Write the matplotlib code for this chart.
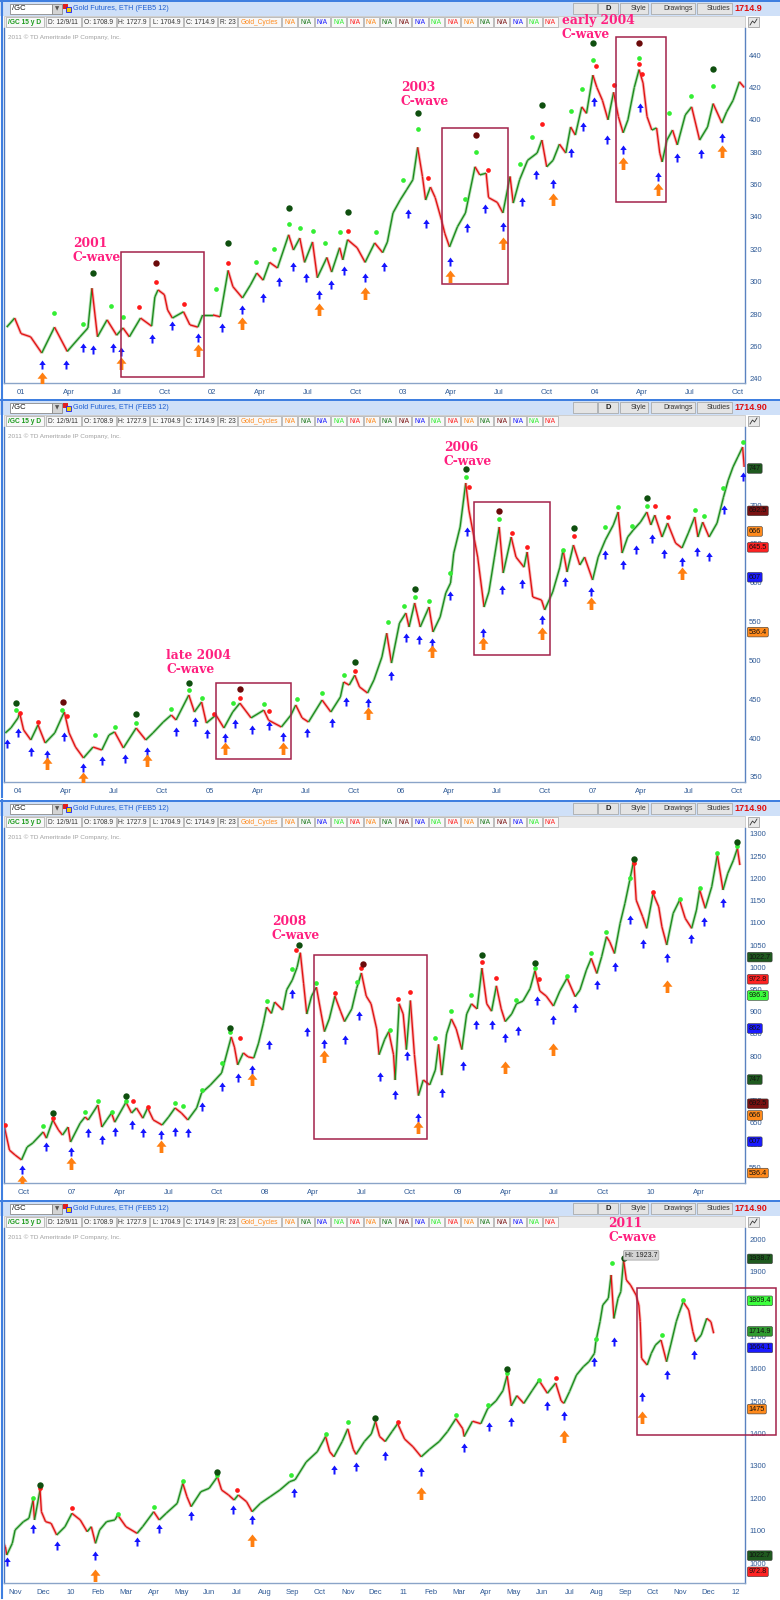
import numpy as np
import matplotlib
matplotlib.use('Agg')
import matplotlib.pyplot as plt
from matplotlib.patches import Rectangle
from matplotlib.collections import LineCollection
from matplotlib.path import Path
from matplotlib.transforms import blended_transform_factory

plt.rcParams['font.family'] = ['Liberation Sans', 'DejaVu Sans']

# ---- data: (month index since Jan 2000, price) -------------------------
p1_price = [(11.1,272),(11.6,277.6),(12.0,268),(12.6,266),(13.3,256),(14.1,272),(14.9,257),(15.7,266),
            (16.2,271.5),(16.45,296),(16.8,266),(17.4,276.5),(18.0,267),(18.4,271.5),(18.8,266),(19.5,277.6),
            (20.2,272.6),(20.4,290.6),(20.6,295),(21.0,292),(21.2,282.6),(21.5,277.6),(22.2,281.5),(22.6,273.4),
            (23.1,272),(23.4,279.5),(24.05,279.5),(24.5,278.4),(25.0,307),(25.3,297),(25.9,290),(26.4,298),
            (26.8,305.4),(27.2,301),(27.6,312),(28.1,308.5),(28.8,329),(29.1,319.6),(29.5,327),(29.8,312),
            (30.3,324.6),(30.6,302.5),(31.2,315),(31.5,306),(32.0,321),(32.2,313.5),(32.5,326),(33.1,321),
            (33.6,312),(34.2,324),(34.7,318),(35.0,324.6),(35.35,342.5),(35.8,350.5),(36.2,356.7),(36.6,363),
            (36.9,383),(37.2,365),(37.4,350.5),(37.7,358.5),(38.0,352),(38.4,338),(38.6,330),(38.9,321.5),
            (39.4,334),(39.9,342.5),(40.5,371),(40.8,366),(41.2,367),(41.35,352),(41.9,349),(42.25,342.5),
            (42.7,365),(42.9,348.6),(43.3,363),(43.8,375),(44.4,379.5),(44.7,387.5),(45.0,371),(45.4,375),
            (45.8,385),(46.2,379.5),(46.5,395.6),(46.8,390.6),(47.2,408),(47.5,404),(47.9,427.6),(48.15,420),
            (48.5,412),(48.85,400),(49.2,417),(49.5,402),(49.8,392),(50.1,400),(50.5,420),(50.8,431),
            (51.05,422.7),(51.3,402),(51.6,393.7),(51.9,395),(52.1,379.5),(52.25,374),(52.55,387.5),(52.9,393.7),
            (53.2,384.5),(53.7,403),(54.1,408),(54.6,387.5),(55.1,395.6),(55.45,410),(56.0,398),(56.3,405),
            (56.7,412),(57.1,423.5),(57.4,420)]
p1_lime = [(14.1,280.7),(15.9,274),(17.65,285),(18.4,278),(24.25,295.6),(26.75,312.2),(27.9,320),(28.85,335.7),
           (29.5,333.2),(30.35,331.4),(31.1,324),(32.0,330.8),(34.3,330.8),(36.0,363),(36.9,394.3),(39.9,351),
           (40.55,380),(43.3,373),(44.1,389.4),(46.5,405.4),(47.2,419),(47.9,437),(50.8,438),(52.7,404),
           (54.05,414.7),(55.45,421)]
p1_red = [(19.4,284.4),(20.5,300),(22.2,286.3),(25.0,311.6),(32.5,331.4),(37.55,364),(41.3,369),(44.7,397.4),
          (48.1,433),(49.2,421.5),(50.8,434.5),(51.0,428.3)]
p1_dkgreen = [(16.5,305.4),(25.0,324),(28.85,345.6),(32.5,343),(36.9,404.2),(44.7,409),(47.9,447.4),(55.45,431.4)]
p1_maroon = [(20.5,311.6),(40.55,390.6),(50.8,447.4)]
p1_blue = [(13.3,251.7),(14.8,252),(15.9,262),(16.5,261),(17.75,262),(18.3,260),(20.2,268),(21.5,276),
           (23.1,268.4),(24.6,274.5),(25.9,285.7),(27.2,293),(28.2,303),(29.1,312),(29.9,305.4),(30.7,295),
           (31.45,301),(32.3,310),(33.6,305.4),(34.8,312),(36.3,345),(37.4,338.8),(38.9,315.3),(40.0,336),
           (41.1,348),(42.25,337),(43.45,352.3),(44.3,369),(45.4,363.5),(46.5,382.6),(47.3,398.6),(48.0,414),
           (48.8,390.6),(49.8,384.4),(50.85,410.4),(52.0,367.8),(53.2,379.5),(54.7,382),(56.0,392)]
p1_orange = [(13.3,244.5),(18.3,253.6),(23.1,261.6),(25.9,278.4),(30.7,287),(33.6,297),(38.9,307),(42.25,327.6),
             (45.4,354.8),(49.8,377),(52.0,361),(56.0,384.4)]

p2_price = [(47.2,406.6),(47.55,413),(48.0,426),(48.1,432.3),(48.35,410.4),(48.8,397.6),(49.25,417),(49.7,393.7),
            (50.3,406.6),(50.75,427.2),(50.9,433.6),(51.2,406.6),(51.6,388.5),(52.1,374.4),(52.7,388.5),(53.25,384.7),
            (53.7,404),(54.05,408),(54.6,387.3),(55.4,413),(56.0,397.6),(56.45,406.6),(57.1,420.7),(57.6,429.7),
            (57.9,423.3),(58.7,455.5),(59.05,433.6),(59.5,446.5),(59.8,419.4),(60.4,429.7),(60.9,413),(61.45,433.6),
            (61.9,445),(62.6,426),(63.4,436),(63.7,423),(64.5,414.3),(65.1,429.7),(65.4,442.6),(65.8,426),
            (66.2,420.7),(67.05,449),(67.6,433.6),(68.2,453),(68.4,472.2),(68.75,468.3),(69.1,481),(69.4,465.8),
            (69.9,458),(70.3,474.8),(70.8,504.4),(71.1,535),(71.4,496.6),(71.9,548),(72.3,561),(72.5,543),
            (72.85,573.9),(73.2,543),(73.75,568.7),(74.0,536.6),(74.45,556),(74.8,586.7),(75.1,599.6),(75.3,638),
            (75.7,671.7),(76.05,728.3),(76.25,693.6),(76.6,655),(76.8,633),(77.2,568.7),(77.5,588),(77.85,633),
            (78.15,671.7),(78.4,612.5),(78.9,658.8),(79.2,633),(79.7,620),(79.9,639.5),(80.25,581.6),(80.8,577.7),
            (81.0,565),(81.5,588),(81.95,620),(82.15,642),(82.4,613.8),(82.8,648.5),(83.2,622.8),(83.5,633),
            (84.0,603.5),(84.35,633),(84.8,655),(85.3,674.3),(85.6,691),(85.85,638.2),(86.2,658.8),(86.55,667.8),
            (87.0,678),(87.4,691),(87.65,674.3),(87.9,687),(88.35,658.8),(88.7,676.8),(89.2,651),(89.6,644.7),
            (90.0,664),(90.4,684.6),(90.6,658.8),(90.9,678),(91.3,658.8),(91.8,676.8),(92.2,710),(92.5,732),
            (92.8,749),(93.1,761.8),(93.4,774.6),(93.5,749)]
p2_lime = [(47.9,436),(50.75,436),(52.8,404),(54.1,414.7),(55.4,419.8),(57.6,437),(58.7,461.9),(59.5,452),
           (61.45,444.8),(63.4,443.9),(65.45,450.3),(67.05,457.6),(68.4,481),(71.15,549.8),(72.2,570),(72.85,582),
           (73.75,576.4),(75.05,612.9),(76.05,736.4),(78.15,682),(82.15,642),(84.8,672),(85.6,697.9),(86.45,673),
           (87.4,699),(90.4,693.6),(91.0,686.3),(92.2,721.5),(93.4,781.5)]
p2_red = [(48.1,432),(49.25,421.2),(51.05,428),(60.3,431),(61.9,451),(63.7,435),(69.1,486.4),(76.25,722.8),
          (78.95,663.5),(79.9,645.5),(82.85,660.5),(87.9,698.7),(88.7,685)]
p2_dkgreen = [(47.9,445.6),(55.4,430.6),(58.7,471.3),(69.1,498.4),(72.85,591.9),(76.05,746.3),(82.85,670.8),
              (87.4,709.4)]
p2_maroon = [(50.8,446.9),(61.9,462.8),(78.15,692.3)]
p2_blue = [(47.3,398.4),(48.0,412.6),(48.8,389),(49.8,384.7),(50.9,408.2),(52.1,367.5),(53.25,377),(54.7,379.1),
           (56.05,389),(57.9,414.7),(59.1,427.6),(59.85,411.3),(60.95,406.2),(61.6,424.2),(62.65,416.8),(63.7,422.4),
           (64.6,408.2),(66.1,412.6),(67.65,425.5),(68.55,453.3),(69.95,451.2),(71.4,486.8),(72.3,534.9),(73.15,532.7),
           (73.95,529.2),(75.05,589.3),(76.15,672.1),(77.15,541.3),(78.35,597),(79.6,604.3),(80.85,558.4),(82.3,607.7),
           (83.9,594.9),(84.8,642),(85.9,629.2),(86.7,648.5),(87.75,662.7),(88.5,643),(89.6,633.5),(90.55,646.3),
           (91.3,640),(92.25,700),(93.4,742.9)]
p2_orange = [(49.8,376.1),(52.1,356.8),(56.05,379.6),(60.95,395.4),(64.6,395.4),(69.95,440.4),(73.95,519.8),
             (77.15,530.5),(80.85,543.4),(83.9,582),(89.6,620.6)]

p3_price = [(79.7,625),(79.8,638),(80.1,588),(80.45,577),(80.85,566),(81.2,595),(81.55,604),(82.2,629),(82.4,615),
            (82.8,656),(83.15,633.3),(83.4,622),(83.75,640),(83.9,606.3),(84.5,649),(84.8,662.6),(85.0,656),
            (85.6,689.7),(85.85,640),(86.15,656),(86.45,671.6),(86.65,651),(87.35,696),(87.7,671.6),(88.0,683),
            (88.4,660),(88.7,683),(89.05,656),(89.6,644.6),(90.0,662.6),(90.4,683),(90.8,671.6),(91.2,656),
            (91.75,683),(92.05,716.7),(92.6,734.6),(93.3,761.7),(93.9,843),(94.1,820),(94.3,780),(94.65,807),
            (94.95,798),(95.3,795.5),(95.6,829),(95.9,874),(96.1,910),(96.4,896),(96.6,921.6),(97.1,903.6),
            (97.35,949),(97.7,971),(98.0,1000),(98.2,1032.6),(98.4,964),(98.6,894.6),(98.9,935),(99.2,955),
            (99.5,894.6),(99.7,855),(100.0,883.5),(100.35,935),(100.7,901),(100.95,877.6),(101.4,906),(101.7,952),
            (102.0,987),(102.3,935),(102.6,917.6),(102.95,861),(103.1,803),(103.45,837.6),(103.7,855),(104.0,803),
            (104.1,746),(104.35,917.6),(104.6,894.6),(104.8,814.6),(105.05,924.8),(105.3,803),(105.55,711),
            (105.85,746),(106.25,735),(106.6,768.5),(106.8,826),(107.0,757),(107.3,849.6),(107.6,883.5),(107.9,861),
            (108.25,814.6),(108.55,894.6),(108.85,917.6),(109.2,906),(109.5,998),(109.8,917.6),(110.1,901),
            (110.4,958),(110.7,906),(110.95,877.6),(111.35,894.6),(111.65,917.6),(112.05,923.6),(112.5,952),
            (112.8,992.3),(113.1,946.4),(113.5,935),(113.95,912.6),(114.35,946.4),(114.8,975.6),(115.3,933.6),
            (115.6,948.6),(116.0,993.7),(116.3,1020),(116.65,986),(116.95,1023.7),(117.25,1068.7),(117.45,1057.5),
            (117.75,1031),(118.1,1099),(118.4,1144),(118.7,1196),(118.95,1241),(119.1,1151),(119.5,1113.8),
            (119.75,1087.6),(120.15,1166),(120.5,1136),(120.7,1091),(121.0,1050),(121.4,1121.4),(121.8,1151),
            (122.15,1110),(122.55,1087.6),(122.85,1128.8),(123.05,1174),(123.4,1132.7),(123.8,1181.3),
            (124.15,1252.7),(124.5,1174),(124.8,1211.5),(125.15,1241),(125.4,1267.8),(125.55,1230)]
p3_lime = [(82.2,642.3),(84.8,673),(85.6,698.6),(86.45,673),(87.35,698.6),(90.4,693.5),(90.9,687.4),(92.05,723.4),
           (93.3,783.4),(93.85,853.4),(96.1,923.9),(97.7,995.9),(99.2,963.7),(101.7,966),(103.75,858.3),(106.6,841),
           (107.6,900.7),(108.85,937.4),(111.65,926),(112.8,998),(114.8,980.9),(116.3,1031),(117.25,1078.4),
           (118.7,1201.6),(121.8,1152.9),(123.05,1177.7),(124.15,1256.5),(125.4,1273)]
p3_red = [(79.8,644.6),(82.8,659.7),(87.8,699.4),(88.75,685.9),(94.45,839.8),(97.95,1038.7),(100.35,943),(102.0,998),
          (104.3,929.3),(105.05,944),(109.5,1011.7),(110.4,975.2),(113.05,973),(118.95,1234),(120.15,1170)]
p3_dkgreen = [(82.8,670.9),(87.35,709.9),(93.85,863.6),(98.1,1050),(109.5,1026.8),(112.8,1009.4),(118.95,1243.7),
              (125.4,1282.7)]
p3_maroon = [(102.1,1007.2)]
p3_blue = [(80.85,554.5),(82.4,607),(83.9,595.7),(85.0,637),(85.85,622),(86.65,640.8),(87.7,655.9),(88.4,637),
           (89.55,633.3),(90.4,640.8),(91.2,637),(92.1,697),(93.3,742),(94.35,762.4),(95.2,779.7),(96.25,836),
           (97.7,951),(98.6,866.2),(99.7,837.6),(100.95,846.8),(101.85,900.7),(103.15,763),(104.1,723),
           (104.85,811.3),(105.55,671.4),(107.0,728.6),(108.35,789.4),(109.15,881),(110.1,881),(110.95,852.5),
           (111.75,868.5),(112.9,935),(113.95,892.6),(115.3,918.7),(116.65,971.2),(117.75,1012.4),(118.7,1117.6),
           (119.55,1062.8),(121.0,1032.7),(122.5,1074.8),(123.3,1113.8),(124.5,1155)]
p3_orange = [(80.85,532),(83.9,573.2),(89.55,610.8),(95.2,761),(99.7,814.6),(105.55,654),(110.95,789.4),
             (113.95,828.4),(121.0,971.2)]

p4_price = [(117.55,1065.8),(117.65,1050),(117.7,1024.7),(117.9,1060.8),(118.0,1101.9),(118.3,1127.6),(118.5,1138),
            (118.65,1194.4),(118.7,1133),(118.9,1225.3),(118.95,1158.3),(119.1,1127.6),(119.3,1122.5),(119.5,1086.4),
            (119.8,1112),(120.05,1153.4),(120.35,1133),(120.6,1096.7),(120.75,1112),(120.9,1060.8),(121.05,1101.9),
            (121.3,1127.6),(121.6,1133),(121.7,1148.3),(122.0,1112),(122.4,1091.6),(122.6,1112),(123.0,1158.3),
            (123.2,1133),(123.45,1153.4),(123.85,1184.3),(124.05,1246),(124.2,1204.6),(124.35,1174),(124.7,1220),
            (125.0,1230.5),(125.3,1266.4),(125.45,1225.3),(125.7,1210),(125.9,1194.4),(126.05,1210),(126.35,1189.2),
            (126.55,1158.3),(126.85,1184.3),(127.2,1204.6),(127.55,1225.3),(127.9,1250.9),(128.1,1257),
            (128.5,1311.7),(128.9,1343.5),(129.2,1390.4),(129.35,1343.5),(129.5,1327.8),(129.8,1375),(130.0,1414.2),
            (130.2,1351),(130.3,1335.5),(130.6,1375),(130.85,1398.4),(131.0,1437.6),(131.15,1390.4),(131.35,1375),
            (131.6,1406),(131.8,1430),(132.05,1382.7),(132.35,1359),(132.65,1327.8),(132.95,1351),(133.3,1375),
            (133.6,1406),(133.9,1445.5),(134.15,1414.2),(134.2,1390.4),(134.5,1437.6),(134.8,1430),(135.05,1477),
            (135.35,1500.6),(135.6,1532),(135.75,1579),(135.9,1485),(136.1,1516.4),(136.35,1492.6),(136.65,1532),
            (136.9,1563.6),(137.2,1524),(137.5,1555.5),(137.7,1500),(137.8,1493),(138.0,1529),(138.25,1580.2),
            (138.5,1606),(138.7,1621.4),(138.9,1647.1),(138.95,1683),(139.1,1744.8),(139.2,1796.3),(139.4,1817),
            (139.5,1888.9),(139.6,1755),(139.75,1817),(139.85,1837.4),(139.95,1935.2),(140.05,1873.5),(140.2,1858),
            (140.4,1827.2),(140.5,1796.3),(140.55,1744.8),(140.6,1631.8),(140.8,1611),(140.95,1647.1),(141.1,1672.8),
            (141.3,1688.3),(141.5,1621.4),(141.65,1672.8),(141.85,1744.8),(141.95,1770.6),(142.1,1806.5),
            (142.3,1780.9),(142.45,1714),(142.55,1683),(142.75,1703.7),(142.95,1755),(143.1,1744.8),(143.2,1709)]
p4_lime = [(118.65,1199.7),(121.7,1151.2),(123.0,1173.9),(124.05,1254.1),(125.3,1271.6),(127.95,1271.6),
           (129.2,1398.5),(130.0,1434.6),(133.9,1456.5),(135.05,1487.9),(135.75,1587),(136.9,1563.6),
           (138.95,1691.4),(139.55,1924.9),(141.35,1703.7),(142.1,1811.7)]
p4_red = [(118.9,1232.5),(120.05,1168.8),(126.0,1225.3),(131.8,1434.6),(137.5,1571.3)]
p4_dkgreen = [(118.9,1240.7),(125.3,1279.9),(131.0,1448.8),(135.75,1598),(139.95,1940.4)]
p4_maroon = []
p4_blue = [(117.7,1019.5),(118.65,1120.4),(119.5,1068.9),(120.9,1038),(122.4,1079.3),(123.2,1120.4),
           (124.35,1161.4),(125.85,1179),(126.55,1148.1),(128.05,1230.5),(129.5,1304),(130.3,1312),(131.35,1346.6),
           (132.65,1296.3),(134.2,1371.6),(135.1,1434.6),(135.9,1450.3),(137.2,1500.6),(137.8,1470),
           (138.9,1636.8),(139.6,1698.6),(140.6,1528.8),(141.5,1595.7),(142.5,1657.4)]
p4_orange = [(120.9,980.5),(126.55,1089.5),(132.65,1233.3),(137.8,1410),(140.6,1469)]

# tick labels and price tags
p1_xlabels = ['01','Apr','Jul','Oct','02','Apr','Jul','Oct','03','Apr','Jul','Oct','04','Apr','Jul','Oct']
p2_xlabels = ['04','Apr','Jul','Oct','05','Apr','Jul','Oct','06','Apr','Jul','Oct','07','Apr','Jul','Oct']
p3_xlabels = ['Oct','07','Apr','Jul','Oct','08','Apr','Jul','Oct','09','Apr','Jul','Oct','10','Apr']
p4_xlabels = ['Nov','Dec','10','Feb','Mar','Apr','May','Jun','Jul','Aug','Sep','Oct','Nov','Dec',
              '11','Feb','Mar','Apr','May','Jun','Jul','Aug','Sep','Oct','Nov','Dec','12']
p2_tags = [(747,'#1f5a1f'),(692.5,'#7a1212'),(666,'#ff8a1c'),(645.5,'#ff2222'),(607,'#1a1aff'),(536.4,'#ff8a1c')]
p3_tags = [(1022.7,'#1f5a1f'),(972.8,'#ff2222'),(936.3,'#3cff3c'),(862,'#1a1aff'),(747,'#1f5a1f'),
           (692.5,'#7a1212'),(666,'#ff8a1c'),(607,'#1a1aff'),(536.4,'#ff8a1c')]
p4_tags = [(1938.7,'#1f5a1f'),(1809.4,'#3cff3c'),(1714.9,'#2f9b2f'),(1664.1,'#1a1aff'),(1475,'#ff8a1c'),
           (1022.7,'#1f5a1f'),(972.8,'#ff2222')]

# cycle boxes (m0, p0, m1, p1) and notes
p1_boxes = [(18.3,241,23.5,318.2),(38.42,298.6,42.6,395),(49.35,349.3,52.5,451)]
p2_boxes = [(60.43,372.7,65.1,471.3),(76.6,507,81.32,704.2)]
p3_boxes = [(99.05,614,106.1,1027)]
p4_boxes = [(140.45,1395,145.45,1850)]
p1_notes = [(15.26,311,'2001\nC-wave'),(35.85,407.3,'2003\nC-wave'),(45.96,448.6,'early 2004\nC-wave')]
p2_notes = [(57.3,480,'late 2004\nC-wave'),(74.67,747.6,'2006\nC-wave')]
p3_notes = [(96.43,1057,'2008\nC-wave')]
p4_notes = [(139.39,1984.6,'2011\nC-wave')]

panels = [
    dict(o=0, xlim=(10.93,57.45), ylim=(237.5,456.7), yt=range(240,441,20), xt=range(12,58,3), xl=p1_xlabels,
         price=p1_price, lime=p1_lime, red=p1_red, dk=p1_dkgreen, mar=p1_maroon, blue=p1_blue, orange=p1_orange,
         tags=[], boxes=p1_boxes, notes=p1_notes, last='1714.9'),
    dict(o=399, xlim=(47.12,93.55), ylim=(343.5,800.4), yt=range(350,751,50), xt=range(48,94,3), xl=p2_xlabels,
         price=p2_price, lime=p2_lime, red=p2_red, dk=p2_dkgreen, mar=p2_maroon, blue=p2_blue, orange=p2_orange,
         tags=p2_tags, boxes=p2_boxes, notes=p2_notes, last='1714.90'),
    dict(o=800, xlim=(79.76,125.87), ylim=(514,1313.5), yt=range(550,1301,50), xt=range(81,124,3), xl=p3_xlabels,
         price=p3_price, lime=p3_lime, red=p3_red, dk=p3_dkgreen, mar=p3_maroon, blue=p3_blue, orange=p3_orange,
         tags=p3_tags, boxes=p3_boxes, notes=p3_notes, last='1714.90'),
    dict(o=1200, xlim=(117.6,144.33), ylim=(938.3,2034), yt=range(1000,2001,100), xt=range(118,145), xl=p4_xlabels,
         price=p4_price, lime=p4_lime, red=p4_red, dk=p4_dkgreen, mar=p4_maroon, blue=p4_blue, orange=p4_orange,
         tags=p4_tags, boxes=p4_boxes, notes=p4_notes, last='1714.90'),
]

W, H = 780, 1600
fig = plt.figure(figsize=(7.8, 16), dpi=100)
bg = fig.add_axes([0, 0, 1, 1], zorder=0)
bg.set_xlim(0, W); bg.set_ylim(H, 0); bg.axis('off')

AXBLUE = '#2f5a96'
PINK = '#ff1f7f'
na_cols = ['#ff8a1c','#1f7a1f','#1a1aff','#33ee33','#ff2222','#ff8a1c','#1f7a1f','#7a1212','#1a1aff',
           '#33ee33','#ff2222','#ff8a1c','#1f7a1f','#7a1212','#1a1aff','#33ee33','#ff2222']

def arrow_path(hw, sw):
    return Path([(0,0),(hw,-0.5),(sw,-0.5),(sw,-1),(-sw,-1),(-sw,-0.5),(-hw,-0.5),(0,0)],
                [1,2,2,2,2,2,2,79])
BLUE_ARROW = arrow_path(0.36, 0.11)
ORANGE_ARROW = arrow_path(0.40, 0.15)

def chrome(o, last):
    # title bar
    bg.add_patch(Rectangle((0, o), W, 16, fc='#cfe0f8', ec='none'))
    bg.add_patch(Rectangle((0, o), W, 2, fc='#3f7fe0', ec='none'))
    bg.add_patch(Rectangle((10, o+3.5), 42, 10, fc='white', ec='#8a8a8a', lw=0.6))
    bg.text(12, o+8.7, '/GC', size=5.5, va='center', color='#111')
    bg.add_patch(Rectangle((52, o+3.5), 10, 10, fc='#d4d4d4', ec='#8a8a8a', lw=0.6))
    bg.text(57, o+8.7, '▼', size=4, va='center', ha='center', color='#555', family='DejaVu Sans')
    bg.add_patch(Rectangle((63, o+4), 5, 5, fc='#e02020', ec='none'))
    bg.add_patch(Rectangle((66, o+7), 5, 5, fc='#f0d000', ec='#1a1aff', lw=0.6))
    bg.text(73, o+8.7, 'Gold Futures, ETH (FEB5 12)', size=5.2, va='center', color='#1f5fd0')
    for x0, w, t in [(573,24,''),(598,20,'D'),(620,28,'Style'),(651,44,'Drawings'),(697,35,'Studies')]:
        bg.add_patch(Rectangle((x0, o+3), w, 11, fc='#e4e4e4', ec='#a0a0a0', lw=0.5))
        if t == 'D':
            bg.text(x0+w/2, o+8.7, t, size=5.5, ha='center', va='center', weight='bold', color='#222')
        elif t:
            bg.text(x0+w-2, o+8.7, t, size=5, ha='right', va='center', color='#333')
    bg.text(734, o+8.7, last, size=6.5, va='center', weight='bold', color='#e01010')
    # legend row
    bg.add_patch(Rectangle((4, o+16), 741, 12, fc='#ebebeb', ec='#c0c0c0', lw=0.5))
    items = [(5.5,44,'/GC 15 y D','#1a9a1a'),(45.5,81,'D: 12/9/11','#333'),(82,116,'O: 1708.9','#333'),
             (116.5,149,'H: 1727.9','#333'),(150,183,'L: 1704.9','#333'),(184,217,'C: 1714.9','#333'),
             (218,237,'R: 23','#333'),(238,281,'Gold_Cycles','#ff8a1c')]
    for i, c in enumerate(na_cols):
        items.append((282+i*16.3, 282+(i+1)*16.3-1, 'N/A', c))
    for x0, x1, t, c in items:
        bg.add_patch(Rectangle((x0, o+17), x1-x0, 10, fc='#f8f8f8', ec='#a8a8a8', lw=0.5))
        bg.text((x0+x1)/2, o+22.3, t, size=4.8, ha='center', va='center', color=c,
                weight='bold' if t.startswith('/GC') else 'normal')
    bg.add_patch(Rectangle((748, o+17), 11, 10, fc='#e8e8e8', ec='#909090', lw=0.5))
    bg.plot([750, 752.5, 754.5, 757], [o+25, o+21, o+23, o+19], color='#333', lw=0.6)
    # window border
    bg.plot([1.5, 1.5], [o, o+398], color='#3f7fe0', lw=1.5)

for P in panels:
    o = P['o']
    chrome(o, P['last'])
    ax = fig.add_axes([4/W, 1-(o+383)/H, 741/W, 355/H], zorder=1)
    ax.set_xlim(*P['xlim']); ax.set_ylim(*P['ylim'])
    ax.set_facecolor('white')
    ax.spines['top'].set_visible(False)
    ax.spines['left'].set_color('#4a78c0')
    ax.spines['right'].set_color('#5a82c0')
    ax.spines['bottom'].set_color('#8aa4c8')
    for s in ax.spines.values():
        s.set_linewidth(1.0)
    ax.yaxis.tick_right()
    ax.set_yticks(list(P['yt']))
    ax.set_xticks(list(P['xt']))
    ax.set_xticklabels(P['xl'])
    ax.tick_params(length=0, labelsize=5.5, colors=AXBLUE, pad=3)
    ax.tick_params(axis='x', pad=4)

    ax.text(0.006, 0.983, '2011 \u00a9 TD Ameritrade IP Company, Inc.', transform=ax.transAxes,
            size=4.6, color='#a0a0a0', va='top')

    m = np.array([q[0] for q in P['price']]); v = np.array([q[1] for q in P['price']])
    pts = np.column_stack([m, v])
    segs = np.stack([pts[:-1], pts[1:]], axis=1)
    up = np.diff(v) >= 0
    ax.add_collection(LineCollection(segs, colors=list(np.where(up, '#b4dfb4', '#f6b6b6')),
                                     linewidths=2.2, zorder=2))
    ax.add_collection(LineCollection(segs, colors=list(np.where(up, '#1c8a1c', '#e01212')),
                                     linewidths=0.95, zorder=2.1))

    def pts_of(lst):
        return [q[0] for q in lst], [q[1] for q in lst]

    for key, col, ms in [('lime', '#33ee33', 3.4), ('red', '#ff1a1a', 3.4), ('dk', '#0f4f0f', 4.6),
                         ('mar', '#6b0a0a', 4.6)]:
        if P[key]:
            xs, ys = pts_of(P[key])
            ax.plot(xs, ys, ls='none', marker='o', ms=ms, mfc=col, mec='none', zorder=3)
    xs, ys = pts_of(P['blue'])
    ax.plot(xs, ys, ls='none', marker=BLUE_ARROW, ms=13, mfc='#1414ff', mec='none', zorder=3)
    xs, ys = pts_of(P['orange'])
    ax.plot(xs, ys, ls='none', marker=ORANGE_ARROW, ms=18, mfc='#ff7f10', mec='none', zorder=3)

    for m0, v0, m1, v1 in P['boxes']:
        ax.add_patch(Rectangle((m0, v0), m1-m0, v1-v0, fill=False, ec='#a3224a', lw=1.1,
                               zorder=4, clip_on=False))
    for mx, vy, t in P['notes']:
        ax.text(mx, vy, t, color=PINK, size=8.8, weight='bold', family='DejaVu Serif',
                ha='left', va='bottom', linespacing=1.1, zorder=5, clip_on=False)

    tr = blended_transform_factory(ax.transAxes, ax.transData)
    for val, col in P['tags']:
        ax.text(1.005, val, f'{val:g}', transform=tr, size=5.2, va='center', ha='left', color='#111',
                clip_on=False, zorder=6,
                bbox=dict(boxstyle='round,pad=0.18', fc=col, ec='#333', lw=0.4))

    if o == 1200:
        ax.text(140.0, 1950, 'Hi: 1923.7', size=5, va='center', ha='left', color='#222', zorder=6,
                bbox=dict(boxstyle='round,pad=0.2', fc='#d4d4d4', ec='#a0a0a0', lw=0.5))

fig.savefig('out.png', dpi=100)
